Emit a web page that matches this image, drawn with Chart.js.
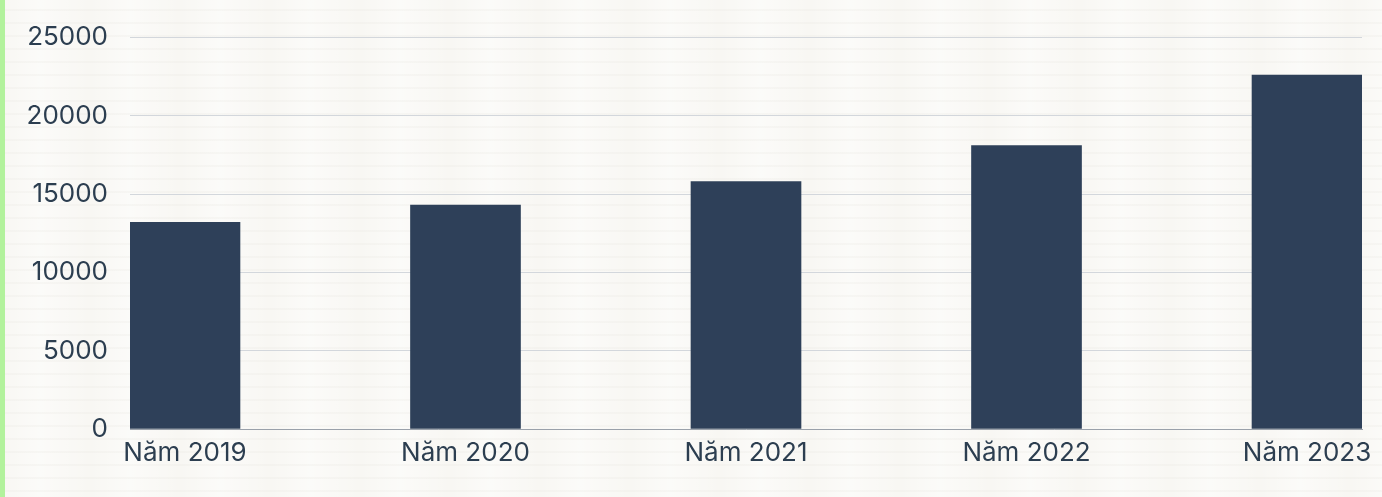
<!DOCTYPE html>
<html>
<head>
<meta charset="utf-8">
<script src="https://cdn.jsdelivr.net/npm/chart.js@4"></script>
<style>
  html, body { margin: 0; padding: 0; width: 1382px; height: 497px; overflow: hidden; }
  body {
    background-color: #f8f7f3;
    background-image:
      repeating-linear-gradient(0deg, rgba(220,218,210,0.00) 0px, rgba(220,218,210,0.00) 5px, rgba(225,223,216,0.35) 6px, rgba(220,218,210,0.00) 7px, rgba(220,218,210,0.00) 13px),
      repeating-linear-gradient(90deg, rgba(255,255,255,0.0) 0px, rgba(255,255,255,0.5) 40px, rgba(255,255,255,0.0) 90px);
    position: relative;
  }
  #bar { position: absolute; left: 0; top: 0; width: 5px; height: 497px; background: #b2f29c; }
  #wrap { position: absolute; left: 0; top: 0; width: 1382px; height: 497px; }
</style>
</head>
<body>
<div id="bar"></div>
<div id="wrap"><canvas id="c"></canvas></div>
<script>
const categories = ["Năm 2019", "Năm 2020", "Năm 2021", "Năm 2022", "Năm 2023"];
const values = [13200, 14300, 15800, 18100, 22600];
const yTicks = [0, 5000, 10000, 15000, 20000, 25000];

const textColor = '#2c3e50';
const fontFamily = 'Inter, "Noto Sans", sans-serif';

new Chart(document.getElementById('c'), {
  type: 'bar',
  data: {
    datasets: [{
      data: values.map((v, i) => ({ x: i, y: v })),
      backgroundColor: '#2e4059',
      borderWidth: 0,
      barThickness: 110
    }]
  },
  options: {
    responsive: true,
    maintainAspectRatio: false,
    animation: false,
    layout: { padding: { left: 0, right: 20, top: 34, bottom: 0 } },
    plugins: { legend: { display: false }, tooltip: { enabled: false } },
    scales: {
      x: {
        type: 'linear',
        offset: false,
        bounds: 'data',
        min: -0.196,
        max: categories.length - 1 + 0.196,
        afterBuildTicks: (s) => { s.ticks = categories.map((c, i) => ({ value: i })); },
        afterFit: (s) => { s.height = 68; },
        grid: { display: false, drawTicks: false },
        border: { display: true, color: '#9aa1aa', width: 1 },
        ticks: {
          autoSkip: false,
          maxRotation: 0,
          padding: 9,
          color: textColor,
          font: { family: fontFamily, size: 26 },
          callback: (v) => categories[v] ?? ''
        }
      },
      y: {
        min: 0,
        max: 25000,
        afterBuildTicks: (s) => { s.ticks = yTicks.map(v => ({ value: v })); },
        afterFit: (s) => { s.width = 130; },
        grid: { color: '#d3d7dc', drawTicks: false },
        border: { display: false },
        ticks: {
          padding: 22,
          color: textColor,
          font: { family: fontFamily, size: 26 },
          callback: (v) => String(v)
        }
      }
    }
  }
});
</script>
</body>
</html>
